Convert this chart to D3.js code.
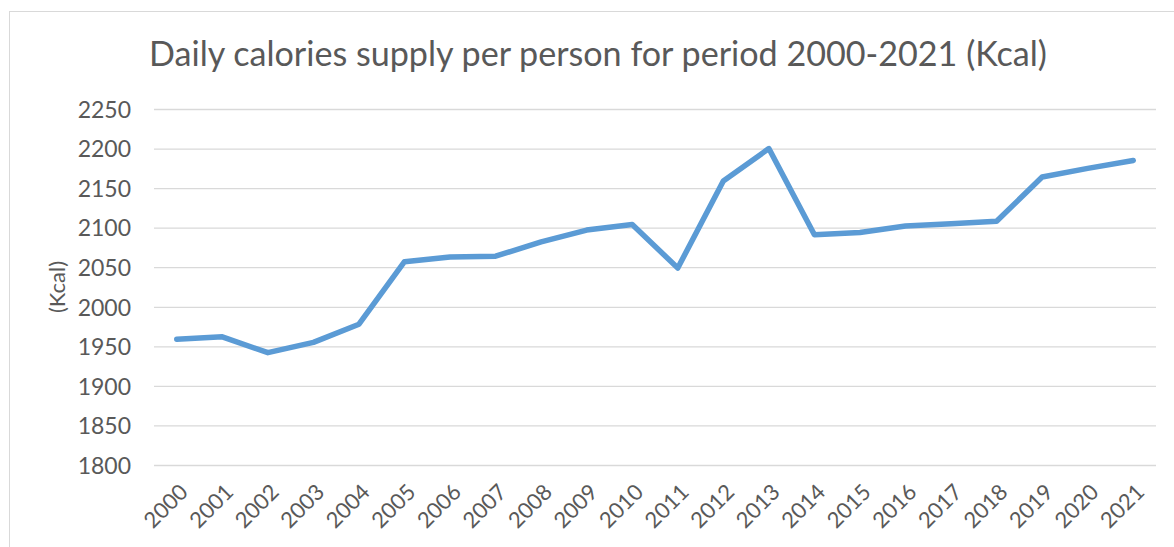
<!DOCTYPE html>
<html>
<head>
<meta charset="utf-8">
<script src="https://cdn.jsdelivr.net/npm/d3@7"></script>
<style>
  html, body { margin: 0; padding: 0; background: #fff; }
  svg { display: block; }
  text { font-family: Lato, "Open Sans", sans-serif; fill: #595959; }
</style>
</head>
<body>
<svg id="chart" width="1174" height="547"></svg>
<script>
const years = ["2000","2001","2002","2003","2004","2005","2006","2007","2008","2009","2010",
               "2011","2012","2013","2014","2015","2016","2017","2018","2019","2020","2021"];
const calories = [1959, 1962, 1942, 1955, 1978, 2057, 2063, 2064, 2082, 2097, 2104,
                  2049, 2159, 2200, 2091, 2094, 2102, 2105, 2108, 2164, 2175, 2185];
const yTicks = [1800, 1850, 1900, 1950, 2000, 2050, 2100, 2150, 2200, 2250];
const titleText = "Daily calories supply per person for period 2000-2021 (Kcal)";
const yAxisTitle = "(Kcal)";

const svg = d3.select("#chart");
const W = 1174, H = 547;
const plot = { left: 154, right: 1156, top: 109, bottom: 465 };

// chart area border
svg.append("rect")
  .attr("x", 9.5).attr("y", 11.5)
  .attr("width", W + 20).attr("height", H + 20)
  .attr("fill", "none").attr("stroke", "#d9d9d9").attr("stroke-width", 1);

const x = d3.scaleBand().domain(years).range([plot.left, plot.right]);
const y = d3.scaleLinear().domain([1800, 2250]).range([plot.bottom, plot.top]);

// gridlines + y labels
const yAxis = d3.axisLeft(y).tickValues(yTicks).tickFormat(d3.format("d"))
  .tickSize(-(plot.right - plot.left)).tickPadding(23);
const gy = svg.append("g").attr("transform", `translate(${plot.left},0)`).call(yAxis);
gy.select(".domain").remove();
gy.selectAll(".tick line").attr("stroke", "#d9d9d9").attr("stroke-width", 1.3);
gy.selectAll(".tick text")
  .attr("font-size", 23).attr("font-family", "Lato, 'Open Sans', sans-serif")
  .attr("fill", "#595959").attr("dy", "0.36em");

// x axis labels
const xAxis = d3.axisBottom(x).tickSize(0).tickPadding(0);
const gx = svg.append("g").attr("transform", `translate(0,${plot.bottom})`).call(xAxis);
gx.select(".domain").remove();
gx.selectAll(".tick text")
  .attr("font-size", 22).attr("font-family", "Lato, 'Open Sans', sans-serif")
  .attr("fill", "#595959")
  .attr("text-anchor", "end")
  .attr("dy", "0.35em")
  .attr("transform", "translate(7,23) rotate(-45)");

// line
const line = d3.line()
  .x((d, i) => x(years[i]) + x.bandwidth() / 2)
  .y(d => y(d));
svg.append("path")
  .datum(calories)
  .attr("d", line)
  .attr("fill", "none")
  .attr("stroke", "#5b9bd5")
  .attr("stroke-width", 5.5)
  .attr("stroke-linejoin", "round")
  .attr("stroke-linecap", "round");

// title
const t = svg.append("text")
  .attr("x", 598).attr("y", 66)
  .attr("text-anchor", "middle")
  .attr("font-size", 31)
  .attr("fill", "#595959")
  .text(titleText);
const tw = t.node().getComputedTextLength();
t.attr("font-size", 31 * 898 / tw);

// y axis title
svg.append("text")
  .attr("transform", "translate(65,287) rotate(-90)")
  .attr("text-anchor", "middle")
  .attr("font-size", 22)
  .attr("fill", "#595959")
  .text(yAxisTitle);
</script>
</body>
</html>
